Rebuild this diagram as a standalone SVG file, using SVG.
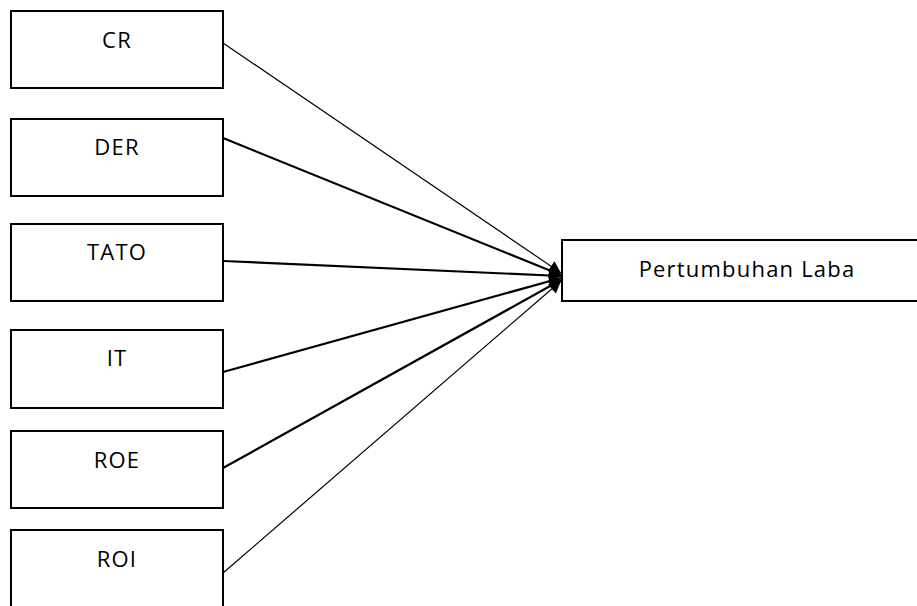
<svg xmlns="http://www.w3.org/2000/svg" width="917" height="606" viewBox="0 0 917 606">
<style>
.box{fill:#fff;stroke:#000;stroke-width:2}
.lbl{font-family:"Open Sans","Liberation Sans",sans-serif;font-size:22px;letter-spacing:1.2px;fill:#000;text-anchor:middle}
.c{stroke:#000;fill:none}
.thin{stroke-width:1.2}
.thick{stroke-width:2.2}
</style>
<defs>
<marker id="ah" viewBox="0 0 10 10" refX="10" refY="5" markerWidth="14" markerHeight="12" markerUnits="userSpaceOnUse" orient="auto">
<path d="M0,0 L10,5 L0,10 z" fill="#000"/>
</marker>
</defs>
<rect width="917" height="606" fill="#fff"/>
<g id="connectors">
<line class="c thin" x1="223" y1="43" x2="561" y2="273" marker-end="url(#ah)"/>
<line class="c thick" x1="223" y1="138" x2="561" y2="275" marker-end="url(#ah)"/>
<line class="c thick" x1="223" y1="261" x2="561" y2="276" marker-end="url(#ah)"/>
<line class="c thick" x1="223" y1="372" x2="561" y2="278" marker-end="url(#ah)"/>
<line class="c thick" x1="223" y1="468" x2="561" y2="280" marker-end="url(#ah)"/>
<line class="c thin" x1="223" y1="573" x2="561" y2="281" marker-end="url(#ah)"/>
</g>
<g id="node-cr"><rect class="box" x="11" y="11" width="212" height="77"/><text class="lbl" x="117" y="48">CR</text></g>
<g id="node-der"><rect class="box" x="11" y="119" width="212" height="77"/><text class="lbl" x="117" y="155">DER</text></g>
<g id="node-tato"><rect class="box" x="11" y="224" width="212" height="77"/><text class="lbl" x="117" y="260">TATO</text></g>
<g id="node-it"><rect class="box" x="11" y="330" width="212" height="78"/><text class="lbl" x="117" y="366">IT</text></g>
<g id="node-roe"><rect class="box" x="11" y="431" width="212" height="77"/><text class="lbl" x="117" y="468">ROE</text></g>
<g id="node-roi"><rect class="box" x="11" y="530" width="212" height="78"/><text class="lbl" x="117" y="567">ROI</text></g>
<g id="node-laba"><rect class="box" x="562" y="240" width="360" height="61"/><text class="lbl" x="747" y="277">Pertumbuhan Laba</text></g>
</svg>
